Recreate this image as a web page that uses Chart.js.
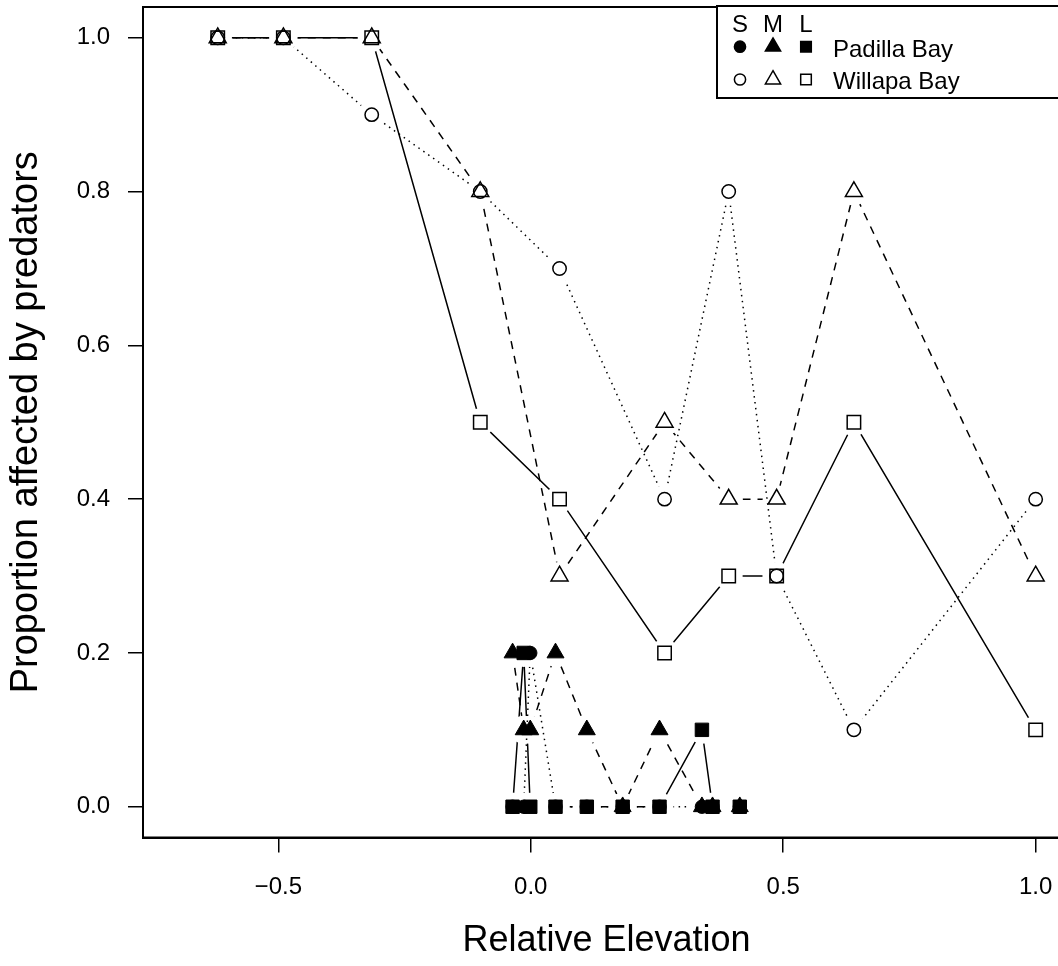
<!DOCTYPE html>
<html>
<head>
<meta charset="utf-8">
<script src="https://cdn.jsdelivr.net/npm/chart.js@4/dist/chart.umd.min.js"></script>
<style>
  html, body { margin: 0; padding: 0; overflow: hidden; background: #fff; }
  canvas { display: block; }
</style>
</head>
<body>
<canvas id="chartPredators" width="1080" height="966"></canvas>
<script>
// relative elevation of each site
const willapaElev = [-0.62, -0.49, -0.315, -0.10, 0.057, 0.265, 0.392, 0.487, 0.64, 1.0];
const padillaElev = [-0.036, -0.014, -0.001, 0.049, 0.111, 0.182, 0.255, 0.339, 0.36, 0.414];

// proportion affected by predators, per size class
const willapaS = [1.0, 1.0, 0.9, 0.8, 0.7, 0.4, 0.8, 0.3, 0.1, 0.4];
const willapaM = [1.0, 1.0, 1.0, 0.8, 0.3, 0.5, 0.4, 0.4, 0.8, 0.3];
const willapaL = [1.0, 1.0, 1.0, 0.5, 0.4, 0.2, 0.3, 0.3, 0.5, 0.1];
const padillaS = [0, 0, 0.2, 0, 0, 0, 0, 0, 0, 0];
const padillaM = [0.2, 0.1, 0.1, 0.2, 0.1, 0, 0.1, 0, 0, 0];
const padillaL = [0, 0.2, 0, 0, 0, 0, 0, 0.1, 0, 0];

const xTicks = [-0.5, 0, 0.5, 1.0];
const xTickLabels = ["\u22120.5", "0.0", "0.5", "1.0"];
const yTicks = [0, 0.2, 0.4, 0.6, 0.8, 1.0];
const yTickLabels = ["0.0", "0.2", "0.4", "0.6", "0.8", "1.0"];
const sizeLabels = ["S", "M", "L"];
const bayLabels = ["Padilla Bay", "Willapa Bay"];

const FONT = "'Liberation Sans', Arial, Helvetica, sans-serif";

const sizeStyles = {
    S: { pointStyle: "circle", radius: 6.7, dash: [1.5, 4.5] },
    M: { pointStyle: "triangle", radius: 9.8, dash: [8, 7] },
    L: { pointStyle: "rect", radius: 9.5, dash: [] }
};

function toPoints(xs, ys) {
    return xs.map((x, i) => ({ x: x, y: ys[i] }));
}

// line with white gaps around its own points (like R type = "b")
function lineSet(xs, ys, size) {
    return {
        data: toPoints(xs, ys),
        showLine: true,
        borderColor: "#000",
        borderWidth: 1.5,
        borderDash: sizeStyles[size].dash,
        pointRadius: 14,
        pointHoverRadius: 14,
        pointBackgroundColor: "#fff",
        pointBorderColor: "#fff",
        pointBorderWidth: 0,
        order: 1
    };
}

function markSet(xs, ys, size, filled) {
    const st = sizeStyles[size];
    return {
        data: toPoints(xs, ys),
        showLine: false,
        pointStyle: st.pointStyle,
        pointRadius: st.radius,
        pointHoverRadius: st.radius,
        pointBackgroundColor: filled ? "#000" : "rgba(0,0,0,0)",
        pointBorderColor: "#000",
        pointBorderWidth: filled ? 1 : 1.5,
        order: 0
    };
}

function noPadding(scale) {
    scale.paddingLeft = 0;
    scale.paddingRight = 0;
    scale.paddingTop = 0;
    scale.paddingBottom = 0;
}

const plotFrame = {
    id: "plotFrame",
    afterDatasetsDraw(chart) {
        const a = chart.chartArea;
        const ctx = chart.ctx;
        ctx.save();
        ctx.strokeStyle = "#000";
        ctx.lineWidth = 2;
        ctx.strokeRect(a.left, a.top, a.right - a.left, a.bottom - a.top);
        ctx.restore();
    }
};

function legendSymbol(ctx, style, r, filled, x, y) {
    ctx.beginPath();
    if (style === "circle") {
        ctx.arc(x, y, r, 0, Math.PI * 2);
    } else if (style === "triangle") {
        ctx.moveTo(x, y - r);
        ctx.lineTo(x + r * 0.866, y + r / 2);
        ctx.lineTo(x - r * 0.866, y + r / 2);
        ctx.closePath();
    } else {
        const h = r * Math.SQRT1_2;
        ctx.rect(x - h, y - h, 2 * h, 2 * h);
    }
    if (filled) ctx.fill();
    ctx.stroke();
}

const legendBox = {
    id: "legendBox",
    afterDraw(chart) {
        const ctx = chart.ctx;
        const top = chart.chartArea.top - 1;
        ctx.save();
        ctx.fillStyle = "#fff";
        ctx.strokeStyle = "#000";
        ctx.lineWidth = 2;
        ctx.fillRect(717, top, 420, 92);
        ctx.strokeRect(717, top, 420, 92);

        const cols = [740, 773, 806];
        const legendSizes = { S: 5.6, M: 8.8, L: 7.5 };
        ctx.fillStyle = "#000";
        ctx.font = "24px " + FONT;
        ctx.textAlign = "center";
        ctx.textBaseline = "alphabetic";
        sizeLabels.forEach((s, i) => ctx.fillText(s, cols[i], 31.5));

        const rows = [46.7, 79.5];
        ctx.lineWidth = 1.5;
        bayLabels.forEach((bay, r) => {
            sizeLabels.forEach((s, i) => {
                legendSymbol(ctx, sizeStyles[s].pointStyle, legendSizes[s], r === 0, cols[i], rows[r]);
            });
            ctx.textAlign = "left";
            ctx.fillText(bay, 833, rows[r] + 9.8);
            ctx.textAlign = "center";
        });
        ctx.restore();
    }
};

window.renderPredatorChart = () => {
    const ctx = document.getElementById("chartPredators");

    new Chart(ctx, {
        type: "scatter",
        data: {
            datasets: [
                lineSet(willapaElev, willapaS, "S"),
                lineSet(willapaElev, willapaM, "M"),
                lineSet(willapaElev, willapaL, "L"),
                lineSet(padillaElev, padillaS, "S"),
                lineSet(padillaElev, padillaM, "M"),
                lineSet(padillaElev, padillaL, "L"),
                markSet(willapaElev, willapaS, "S", false),
                markSet(willapaElev, willapaM, "M", false),
                markSet(willapaElev, willapaL, "L", false),
                markSet(padillaElev, padillaS, "S", true),
                markSet(padillaElev, padillaM, "M", true),
                markSet(padillaElev, padillaL, "L", true)
            ]
        },
        options: {
            responsive: false,
            devicePixelRatio: 1,
            animation: false,
            events: [],
            layout: { autoPadding: false, padding: { left: 0, right: 10, top: 7, bottom: 0 } },
            plugins: {
                legend: { display: false },
                tooltip: { enabled: false }
            },
            scales: {
                x: {
                    type: "linear",
                    min: -0.768,
                    max: 1.068,
                    afterBuildTicks: (scale) => { scale.ticks = xTicks.map(v => ({ value: v })); },
                    afterFit: (scale) => { scale.height = 128.5; noPadding(scale); },
                    ticks: {
                        callback: (v, i) => xTickLabels[i],
                        font: { family: FONT, size: 24 },
                        color: "#000",
                        padding: 20,
                        maxRotation: 0
                    },
                    grid: { drawOnChartArea: false, drawTicks: true, tickLength: 15, color: "#000", lineWidth: 1.5 },
                    border: { display: true, color: "#000", width: 2 },
                    title: {
                        display: true,
                        text: "Relative Elevation",
                        font: { family: FONT, size: 36 },
                        color: "#000",
                        padding: { top: 0, bottom: 3 }
                    }
                },
                y: {
                    type: "linear",
                    min: -0.04,
                    max: 1.04,
                    afterBuildTicks: (scale) => { scale.ticks = yTicks.map(v => ({ value: v })); },
                    afterFit: (scale) => { scale.width = 143; noPadding(scale); },
                    ticks: {
                        callback: (v, i) => yTickLabels[i],
                        font: { family: FONT, size: 24 },
                        color: "#000",
                        padding: 18
                    },
                    grid: { drawOnChartArea: false, drawTicks: true, tickLength: 15, color: "#000", lineWidth: 1.5 },
                    border: { display: true, color: "#000", width: 2 },
                    title: {
                        display: true,
                        text: "Proportion affected by predators",
                        font: { family: FONT, size: 38 },
                        color: "#000",
                        padding: { top: 4, bottom: 0 }
                    }
                }
            }
        },
        plugins: [plotFrame, legendBox]
    });
};

window.renderPredatorChart();
</script>
</body>
</html>
